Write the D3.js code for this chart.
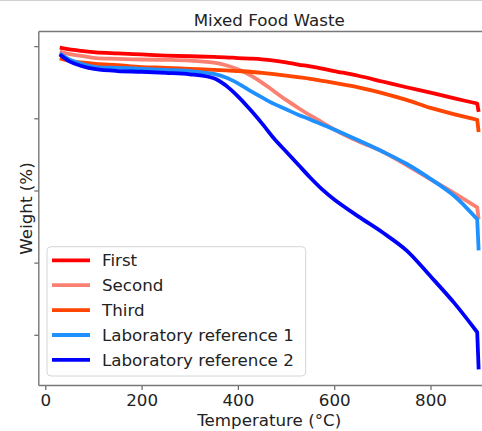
<!DOCTYPE html>
<html>
<head>
<meta charset="utf-8">
<script src="https://cdn.jsdelivr.net/npm/d3@7"></script>
<style>
	body { margin: 0; background: #fff; }
	svg { display: block; font-family: "DejaVu Sans", sans-serif; }
</style>
</head>
<body>
<svg id="chart" width="482" height="431"></svg>
<script>
// temperature (°C) shared by every run
var temps = [30, 50, 75, 105, 150, 200, 250, 300, 350, 375, 400, 425, 450, 475, 500, 525, 550, 575, 600, 650, 700, 750, 800, 850, 897, 900];

// weight (%)
var first  = [99.6, 99.1, 98.7, 98.3, 98.0, 97.7, 97.4, 97.2, 97.0, 96.9, 96.7, 96.55, 96.35, 96.0, 95.5, 94.9, 94.4, 93.8, 93.1, 91.8, 90.2, 88.6, 87.1, 85.5, 84.1, 81.8];
var second = [98.5, 97.8, 97.3, 96.7, 96.5, 96.3, 96.2, 96.0, 95.4, 94.7, 93.6, 92.0, 89.9, 87.5, 85.1, 82.9, 80.8, 78.9, 76.9, 73.6, 70.8, 67.0, 63.1, 59.2, 55.3, 52.0];
var third  = [96.6, 95.9, 95.5, 95.1, 94.7, 94.2, 94.0, 93.7, 93.4, 93.3, 93.1, 92.9, 92.6, 92.25, 91.85, 91.4, 90.95, 90.4, 89.8, 88.6, 87.0, 85.1, 82.9, 81.1, 79.6, 76.2];
var lab1   = [98.0, 96.3, 95.1, 94.2, 94.0, 93.7, 93.4, 93.1, 92.3, 91.3, 89.7, 87.7, 85.8, 84.0, 82.5, 81.0, 79.7, 78.3, 76.9, 73.9, 70.8, 67.4, 63.2, 58.4, 52.0, 43.4];
var lab2   = [97.7, 95.8, 94.5, 93.6, 93.1, 92.9, 92.6, 92.2, 91.1, 89.1, 86.1, 82.5, 78.6, 74.4, 70.8, 67.2, 63.6, 60.3, 57.5, 52.8, 48.4, 43.4, 36.2, 28.7, 20.7, 10.4];

var seriesNames = ["First", "Second", "Third", "Laboratory reference 1", "Laboratory reference 2"];
var seriesColors = ["#ff0000", "#fa8072", "#ff4500", "#1e90ff", "#0000ff"];
var xTicks = [0, 200, 400, 600, 800];
var yTicks = [100, 80, 60, 40, 20];

var series = [first, second, third, lab1, lab2].map(function(vals, i){
	return { name: seriesNames[i], color: seriesColors[i], points: vals.map(function(v, j){ return [temps[j], v]; }) };
});

var svg = d3.select("#chart");
var plotLeft = 38.8, plotRight = 499.6, plotTop = 31.5, plotBottom = 385.5;
var fontSize = 16.7;

// matplotlib style 5% margins
function pad(ext) {
	var m = (ext[1] - ext[0]) * 0.05;
	return [ext[0] - m, ext[1] + m];
}
var allW = d3.merge([first, second, third, lab1, lab2]);
var x = d3.scaleLinear().domain(pad(d3.extent(temps))).range([plotLeft, plotRight]);
var y = d3.scaleLinear().domain(pad(d3.extent(allW))).range([plotBottom, plotTop]);

// thin frame line at the very top of the screenshot
svg.append("line").attr("x1", 0).attr("x2", 482).attr("y1", 0.5).attr("y2", 0.5)
	.attr("stroke", "#d0d0d0").attr("stroke-width", 1);

svg.append("defs").append("clipPath").attr("id", "plotclip")
	.append("rect").attr("x", plotLeft).attr("y", plotTop)
	.attr("width", plotRight - plotLeft).attr("height", plotBottom - plotTop);

var line = d3.line()
	.x(function(d){ return x(d[0]); })
	.y(function(d){ return y(d[1]); })
	.curve(d3.curveCatmullRom.alpha(0.5));

// smooth heating part, then the straight drop of the isothermal hold at 900
function tgaPath(pts) {
	var last = pts[pts.length - 1];
	return line(pts.slice(0, -1)) + "L" + x(last[0]) + "," + y(last[1]);
}

svg.append("g").attr("clip-path", "url(#plotclip)")
	.selectAll("path").data(series).enter().append("path")
	.attr("d", function(d){ return tgaPath(d.points); })
	.attr("fill", "none")
	.attr("stroke", function(d){ return d.color; })
	.attr("stroke-width", 3.8)
	.attr("stroke-linejoin", "round");

// axes
var xAxis = svg.append("g").attr("transform", "translate(0," + plotBottom + ")")
	.call(d3.axisBottom(x).tickValues(xTicks).tickSize(4.5).tickPadding(4));
var yAxis = svg.append("g").attr("transform", "translate(" + plotLeft + ",0)")
	.call(d3.axisLeft(y).tickValues(yTicks).tickSize(4.5).tickFormat(""));

[xAxis, yAxis].forEach(function(g){
	g.attr("font-size", null).attr("font-family", null);
	g.select(".domain").remove();
	g.selectAll(".tick line").attr("stroke", "#666").attr("stroke-width", 1.2);
	g.selectAll("text").attr("fill", "#222").style("font-size", fontSize + "px");
});

// spines
svg.append("line").attr("x1", plotLeft).attr("x2", plotLeft).attr("y1", plotTop).attr("y2", plotBottom)
	.attr("stroke", "#777").attr("stroke-width", 1.4);
svg.append("line").attr("x1", plotLeft).attr("x2", plotRight).attr("y1", plotBottom).attr("y2", plotBottom)
	.attr("stroke", "#777").attr("stroke-width", 1.4);
svg.append("line").attr("x1", plotLeft).attr("x2", plotRight).attr("y1", plotTop).attr("y2", plotTop)
	.attr("stroke", "#777").attr("stroke-width", 1.4);

// titles
svg.append("text").attr("x", (plotLeft + plotRight) / 2).attr("y", 26)
	.attr("text-anchor", "middle").attr("fill", "#222").style("font-size", fontSize + "px")
	.text("Mixed Food Waste");
svg.append("text").attr("x", (plotLeft + plotRight) / 2).attr("y", 425.5)
	.attr("text-anchor", "middle").attr("fill", "#222").style("font-size", fontSize + "px")
	.text("Temperature (°C)");
svg.append("text").attr("transform", "translate(31.5," + ((plotTop + plotBottom) / 2) + ") rotate(-90)")
	.attr("text-anchor", "middle").attr("fill", "#222").style("font-size", fontSize + "px")
	.text("Weight (%)");

// legend
var legend = svg.append("g");
legend.append("rect").attr("x", 47).attr("y", 246.7).attr("width", 258.7).attr("height", 129.3)
	.attr("rx", 4).attr("fill", "#fff").attr("fill-opacity", 0.8)
	.attr("stroke", "#d6d6d6").attr("stroke-width", 1);
var items = legend.selectAll("g.item").data(series).enter().append("g")
	.attr("class", "item")
	.attr("transform", function(d, i){ return "translate(0," + (260.3 + i * 24.9) + ")"; });
items.append("line").attr("x1", 52).attr("x2", 90).attr("y1", 0).attr("y2", 0)
	.attr("stroke", function(d){ return d.color; }).attr("stroke-width", 3.8);
items.append("text").attr("x", 102).attr("y", 6)
	.attr("fill", "#222").style("font-size", fontSize + "px")
	.text(function(d){ return d.name; });
</script>
</body>
</html>
